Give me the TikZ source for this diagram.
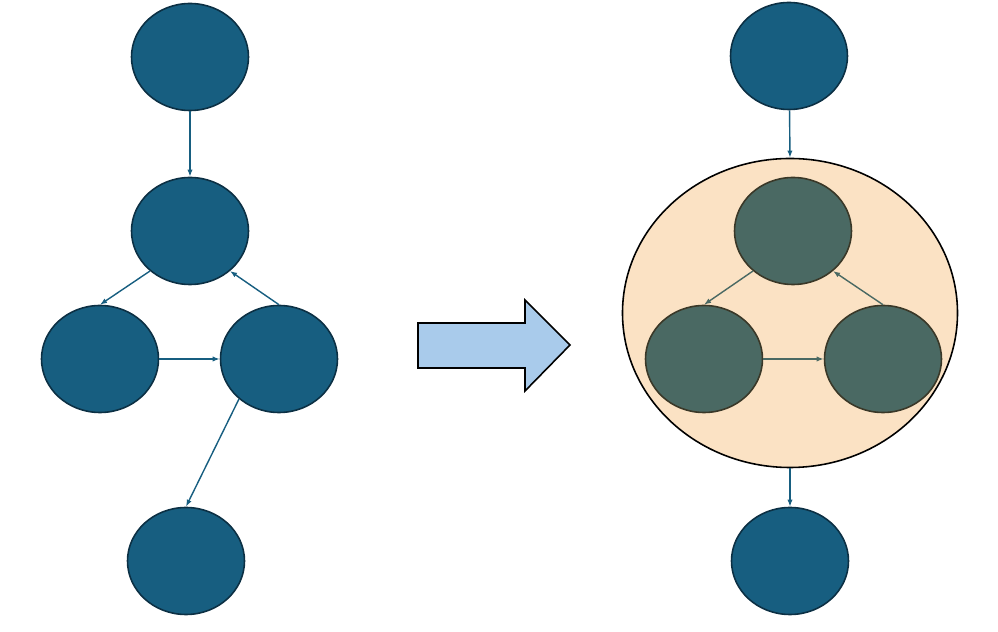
\documentclass[tikz,border=0pt]{standalone}
\usepackage{amssymb,amsmath}
\usetikzlibrary{shapes.geometric,arrows.meta}

\definecolor{nodeblue}{RGB}{23,94,128}
\definecolor{nodeedge}{RGB}{12,48,68}
\definecolor{grpgreen}{RGB}{74,105,99}
\definecolor{grpedge}{RGB}{58,56,40}
\definecolor{bigfill}{RGB}{251,226,196}
\definecolor{arrowfill}{RGB}{169,203,235}

\tikzset{
  vert/.style={ellipse, draw=nodeedge, fill=nodeblue, line width=0.9pt,
    minimum width=2.34cm, minimum height=2.14cm, inner sep=0pt},
  inner/.style={vert, draw=grpedge, fill=grpgreen},
  link/.style={-{Latex[length=4pt,width=3pt]}, draw=nodeblue, line width=0.8pt},
  innerlink/.style={link, draw=grpgreen}
}

\begin{document}
\begin{tikzpicture}
 \useasboundingbox (0,0) rectangle (19.96,12.64);
 % left graph
 \node[vert] (ltop) at (3.8,11.5) {};
 \node[vert] (lmid) at (3.8,8.02) {};
 \node[vert] (lleft) at (2.0,5.46) {};
 \node[vert] (lright) at (5.58,5.46) {};
 \node[vert] (lbot) at (3.72,1.42) {};
 \draw[link] (ltop) -- (lmid);
 \draw[link] (lmid.225) -- (lleft.north);
 \draw[link] (lright.north) -- (lmid.-45);
 \draw[link] (lleft) -- (lright);
 \draw[link] (lright.225) -- (lbot.north);

 % block arrow
 \draw[fill=arrowfill, line width=0.9pt] (8.36,6.18) -- (10.5,6.18) -- (10.5,6.64)
   -- (11.4,5.74) -- (10.5,4.82) -- (10.5,5.28) -- (8.36,5.28) -- cycle;

 % right graph
 \node[vert] (rtop) at (15.78,11.52) {};
 \node[ellipse, draw=black, fill=bigfill, line width=0.9pt, minimum width=6.7cm,
   minimum height=6.18cm, inner sep=0pt] (group) at (15.8,6.38) {};
 \node[inner] (gtop) at (15.86,8.02) {};
 \node[inner] (gleft) at (14.08,5.46) {};
 \node[inner] (gright) at (17.66,5.46) {};
 \node[vert] (rbot) at (15.8,1.42) {};
 \draw[link] (rtop) -- (group.north);
 \draw[link] (group) -- (rbot);
 \draw[innerlink] (gtop.225) -- (gleft.north);
 \draw[innerlink] (gright.north) -- (gtop.-45);
 \draw[innerlink] (gleft) -- (gright);
\end{tikzpicture}
\end{document}
